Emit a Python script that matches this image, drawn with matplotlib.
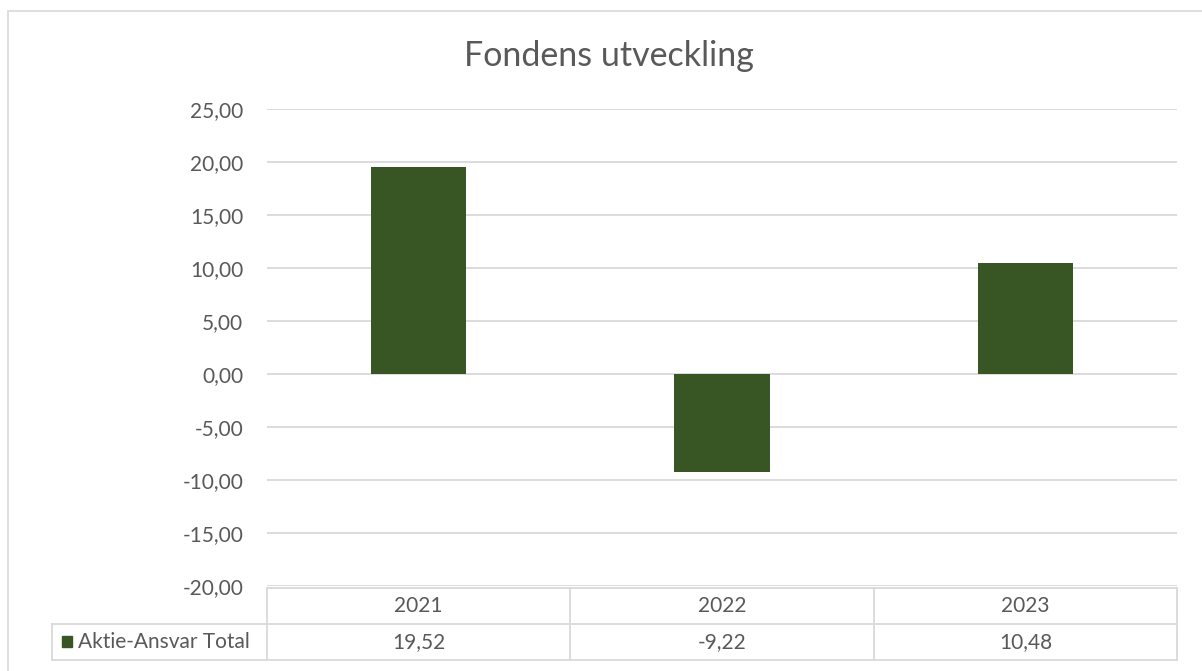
import matplotlib.pyplot as plt
from matplotlib.patches import Rectangle
import matplotlib.transforms as mtransforms

plt.rcParams['font.family'] = ['Lato', 'DejaVu Sans']

years = ['2021', '2022', '2023']
values = [19.52, -9.22, 10.48]
series_name = 'Aktie-Ansvar Total'
yticks = [-20, -15, -10, -5, 0, 5, 10, 15, 20, 25]

W, H = 1202, 671
bar_color = '#375623'
text_color = '#595959'
grid_color = '#d9d9d9'

fig = plt.figure(figsize=(W / 100, H / 100), dpi=100)

def fx(px):
    return px / W

def fy(py):
    return 1 - py / H

# outer chart frame
fig.patches.append(Rectangle((fx(8), fy(700)), fx(1230) - fx(8), fy(11) - fy(700),
                             transform=fig.transFigure, fill=False,
                             edgecolor='#d9d9d9', linewidth=1.2))

left, right, top, bottom = 267, 1177, 109, 586
ax = fig.add_axes([fx(left), fy(bottom), fx(right) - fx(left), fy(top) - fy(bottom)])

x = range(len(years))
ax.bar(x, values, width=0.315, color=bar_color, zorder=3)
ax.set_xlim(-0.5, len(years) - 0.5)
ax.set_ylim(-20, 25)
ax.set_yticks(yticks)
ax.set_yticklabels([f'{v:.2f}'.replace('.', ',') for v in yticks])
ax.yaxis.grid(True, color=grid_color, linewidth=1.3, zorder=0)
ax.set_xticks([])
for s in ax.spines.values():
    s.set_visible(False)
ax.tick_params(axis='y', length=0, pad=17, labelsize=15, labelcolor=text_color)

fig.text(fx(609), fy(56), 'Fondens utveckling', ha='center', va='center',
         fontsize=24.5, color=text_color)

# data table below the plot
row1_top, row_mid, row2_bot = 588, 624, 660
tab_left = 52
lw = 1.3
fig.add_artist(plt.Line2D([fx(left), fx(right)], [fy(row1_top)] * 2, color=grid_color, lw=lw))
fig.add_artist(plt.Line2D([fx(tab_left), fx(right)], [fy(row_mid)] * 2, color=grid_color, lw=lw))
fig.add_artist(plt.Line2D([fx(tab_left), fx(right)], [fy(row2_bot)] * 2, color=grid_color, lw=lw))
fig.add_artist(plt.Line2D([fx(tab_left)] * 2, [fy(row_mid), fy(row2_bot)], color=grid_color, lw=lw))
for i in range(len(years) + 1):
    xd = i - 0.5
    xf = fig.transFigure.inverted().transform(ax.transData.transform((xd, 0)))[0]
    fig.add_artist(plt.Line2D([xf] * 2, [fy(row1_top), fy(row2_bot)], color=grid_color, lw=lw))

trans = mtransforms.blended_transform_factory(ax.transData, fig.transFigure)
for i, (yr, v) in enumerate(zip(years, values)):
    fig.text(i, fy((row1_top + row_mid) / 2), yr, transform=trans, ha='center', va='center',
             fontsize=15, color=text_color)
    fig.text(i, fy((row_mid + row2_bot) / 2), f'{v:.2f}'.replace('.', ','), transform=trans,
             ha='center', va='center', fontsize=15, color=text_color)

fig.patches.append(Rectangle((fx(62), fy(647)), fx(10), fy(636) - fy(647),
                             transform=fig.transFigure, color=bar_color))
fig.text(fx(78), fy((row_mid + row2_bot) / 2), series_name, ha='left', va='center',
         fontsize=15, color=text_color)

fig.savefig('out.png', dpi=100, facecolor='white')
